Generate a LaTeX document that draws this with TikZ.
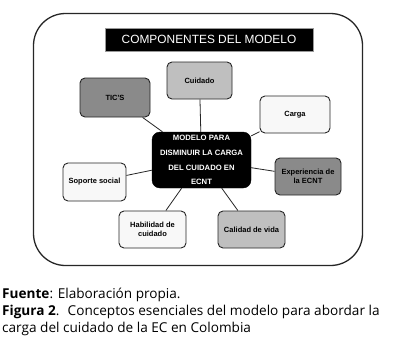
\documentclass[tikz,border=0pt]{standalone}
\usepackage{fontspec}
\setmainfont{Open Sans}
\newfontfamily\arialfont{Liberation Sans}
\definecolor{gdark}{HTML}{8A8A8A}
\definecolor{gmid}{HTML}{BFBFBF}
\definecolor{glight}{HTML}{F8F8F8}
\begin{document}
\begin{tikzpicture}[x=1pt,y=-1pt,
  comp/.style={draw=black!85,line width=0.9pt,rounded corners=5pt,minimum width=68pt,minimum height=37pt,
    font=\arialfont\bfseries\fontsize{7.5}{8.6}\selectfont,align=center,inner sep=1pt},
  link/.style={draw=black!85,line width=0.8pt},
  captxt/.style={anchor=base west,inner sep=0pt,font=\fontsize{13.6}{15}\selectfont}]
\useasboundingbox (0,0) rectangle (398,340);
\fill[white] (0,0) rectangle (398,340);
\draw[line width=1.3pt,black!85,rounded corners=32pt] (33.5,13.5) rectangle (362.5,265.5);
\node[fill=black,draw=black!40,line width=0.4pt,minimum width=208pt,minimum height=23pt,inner sep=0pt,
  text=white,font=\arialfont\fontsize{11.9}{13}\selectfont] (title) at (209,39.5) {COMPONENTES DEL MODELO};
\node[fill=black,draw=black,rounded corners=8pt,minimum width=99pt,minimum height=56pt,inner sep=0pt,
  text=white,align=center,font=\arialfont\bfseries\fontsize{7.7}{14.7}\selectfont] (center) at (201.5,160)
  {MODELO PARA\\DISMINUIR LA CARGA\\DEL CUIDADO EN\\ECNT};
\node[comp,fill=gmid,minimum width=65pt] (cuidado) at (199.5,80.5) {Cuidado};
\node[comp,fill=gdark,minimum width=70pt,minimum height=39pt] (tics) at (115,97.5) {TIC'S};
\node[comp,fill=glight,minimum width=70pt] (carga) at (295,114.5) {Carga};
\node[comp,fill=gdark,minimum width=66pt] (exp) at (308,176.5) {Experiencia de\\la ECNT};
\node[comp,fill=glight,minimum width=63pt,minimum height=38pt] (soporte) at (94.5,182) {Soporte social};
\node[comp,fill=glight,minimum width=67pt] (habil) at (152.5,229.5) {Habilidad de\\cuidado};
\node[comp,fill=gmid,minimum width=67pt] (calidad) at (251.5,229.5) {Calidad de vida};
\foreach \n in {cuidado,tics,carga,exp,soporte,habil,calidad}
  \draw[link] (\n) -- (center);
\node[captxt] (c1) at (2,298) {\textbf{Fuente}: Elaboración propia.};
\node[captxt] (c2) at (2,315) {\textbf{Figura 2}.~ Conceptos esenciales del modelo para abordar la};
\node[captxt] (c3) at (2,332) {carga del cuidado de la EC en Colombia};
\end{tikzpicture}
\end{document}
